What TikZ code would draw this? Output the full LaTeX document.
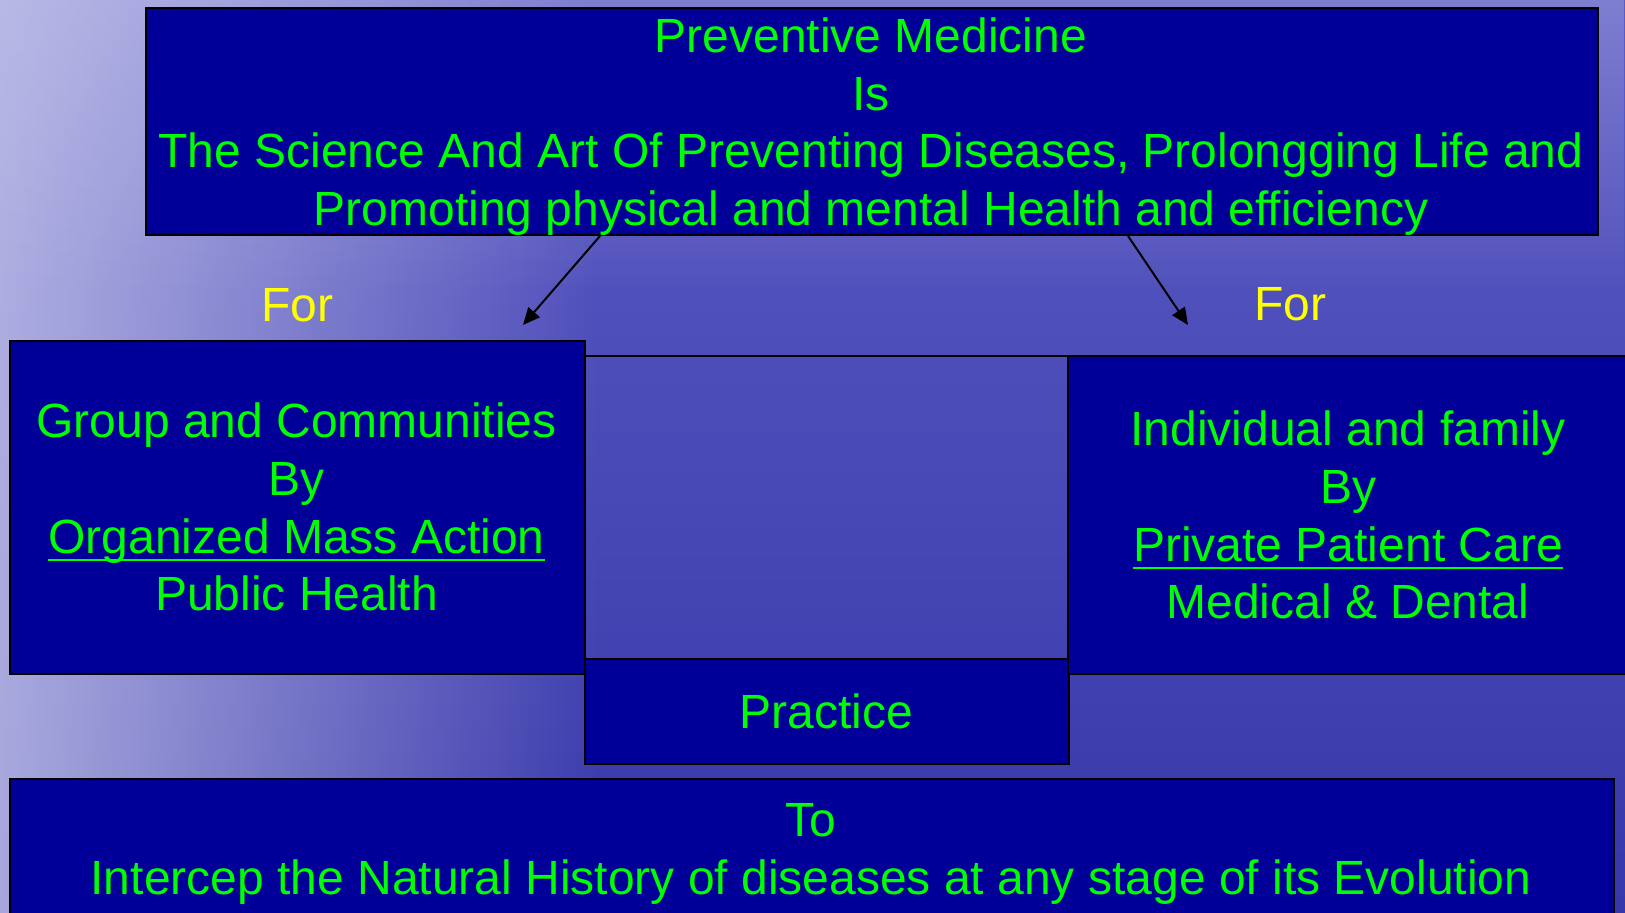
\documentclass[tikz,border=0pt]{standalone}
\usepackage{fontspec}
\setmainfont{Liberation Sans}
\usetikzlibrary{arrows.meta,fadings}
\definecolor{boxblue}{RGB}{0,0,153}
\definecolor{txtgreen}{RGB}{0,255,0}
\definecolor{foryellow}{RGB}{255,255,0}
\definecolor{bgtop}{RGB}{92,92,196}
\definecolor{bgbot}{RGB}{55,55,170}
\definecolor{bglight}{RGB}{205,205,238}
\tikzset{
  panel/.style={draw=black, line width=1pt, fill=boxblue, inner sep=0pt, anchor=north west, rectangle},
  hollow/.style={draw=black, line width=1pt, inner sep=0pt, anchor=north west, rectangle},
  txt/.style={text=txtgreen, inner sep=0pt, anchor=base, font=\fontsize{24pt}{28.75pt}\selectfont},
  fortxt/.style={txt, text=foryellow},
  uline/.style={draw=txtgreen, line width=1.35pt},
  arr/.style={draw=black, line width=1pt, -{Triangle[length=8.5pt,width=7.5pt]}}
}
\begin{document}
\begin{tikzpicture}[x=0.5pt,y=-0.5pt]
\useasboundingbox (0,0) rectangle (1625,913);
% background
\shade[top color=bgtop, bottom color=bgbot] (0,0) rectangle (1625,913);
\fill[bglight, path fading=east, fill opacity=0.75] (0,0) rectangle (600,913);
\fill[bglight, path fading=south, fill opacity=0.3] (0,0) rectangle (1625,300);

% boxes
\node[panel, minimum width=726pt, minimum height=113.5pt] (top) at (145,7) {};
\node[panel, minimum width=287.5pt, minimum height=166.5pt] (left) at (9,340) {};
\node[hollow, minimum width=242pt, minimum height=204pt] (mid) at (584,355) {};
\node[panel, minimum width=242pt, minimum height=52.5pt] (practice) at (584,658) {};
\node[panel, minimum width=290pt, minimum height=159pt] (right) at (1067,355) {};
\node[panel, minimum width=802pt, minimum height=76pt] (bottom) at (9,778) {};

% top texts
\node[txt] (t1) at (871,53) {Preventive Medicine};
\node[txt] (t2) at (871,110.5) {Is};
\node[txt] (t3) at (871,168) {The Science And Art Of Preventing Diseases, Prolongging Life and};
\node[txt] (t4) at (871,225.5) {Promoting physical and mental Health and efficiency};

% For labels
\node[fortxt] (forL) at (297,322) {For};
\node[fortxt] (forR) at (1290,321) {For};

% left texts
\node[txt] (l1) at (296.5,438) {Group and Communities};
\node[txt] (l2) at (296.5,495.5) {By};
\node[txt] (l3) at (296.5,553) {Organized Mass Action};
\node[txt] (l4) at (296.5,610.5) {Public Health};
\draw[uline] ([yshift=-3.5pt]l3.base west) -- ([yshift=-3.5pt]l3.base east);

% right texts
\node[txt] (r1) at (1348,446) {Individual and family};
\node[txt] (r2) at (1348,503.5) {By};
\node[txt] (r3) at (1348,561) {Private Patient Care};
\node[txt] (r4) at (1348,618.5) {Medical \& Dental};
\draw[uline] ([yshift=-3.5pt]r3.base west) -- ([yshift=-3.5pt]r3.base east);

% practice
\node[txt] (p1) at (826,728) {Practice};

% bottom texts
\node[txt] (b1) at (811,836.5) {To};
\node[txt] (b2) at (811,894) {Intercep the Natural History of diseases at any stage of its Evolution};

% arrows
\coordinate (a1e) at (523,325);
\coordinate (a2e) at (1188,325);
\draw[arr] ([xshift=227.5pt]top.south west) -- (a1e);
\draw[arr] ([xshift=491.5pt]top.south west) -- (a2e);
\end{tikzpicture}
\end{document}
